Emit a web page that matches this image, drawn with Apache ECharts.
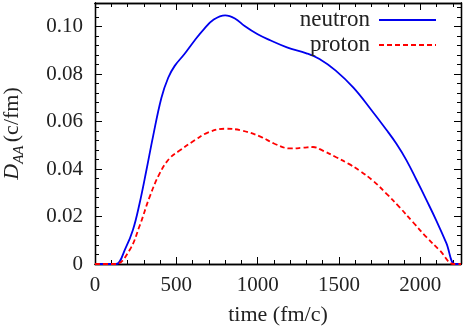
<!DOCTYPE html>
<html>
<head>
<meta charset="utf-8">
<script src="https://cdn.jsdelivr.net/npm/echarts@6/dist/echarts.min.js"></script>
<style>html,body{margin:0;padding:0;background:#fff}#c{width:463px;height:328px}</style>
</head>
<body>
<div id="c"></div>
<script>
const neutronT = [0,100,130,190,233,274,316,356,408,450,490,550,610,670,730,800,860,920,1000,1080,1180,1300,1380,1480,1590,1700,1790,1853,1915,1976,2038,2099,2160,2212,2250];
const neutronV = [0,0,0,0.007,0.0143,0.0255,0.0395,0.0535,0.070,0.0785,0.0835,0.0885,0.094,0.099,0.103,0.1048,0.1035,0.1003,0.0968,0.0942,0.0913,0.0888,0.0864,0.0815,0.0742,0.0648,0.0567,0.0507,0.0437,0.0355,0.0269,0.0182,0.0088,0,0];
const protonT = [0,100,130,213,274,336,397,459,520,610,690,800,900,1020,1100,1200,1280,1340,1400,1480,1560,1627,1709,1791,1873,1955,2038,2120,2205,2250];
const protonV = [0,0,0,0.0059,0.016,0.0283,0.0381,0.0446,0.0478,0.052,0.0553,0.057,0.0563,0.0536,0.0508,0.0487,0.049,0.0493,0.0478,0.0451,0.0422,0.0393,0.0351,0.0297,0.0239,0.0176,0.0113,0.0057,0,0];
const seriesNames = ['neutron','proton'];
const xTitle = 'time (fm/c)';

const FONT = 'Liberation Serif';
const chart = echarts.init(document.getElementById('c'), null, {renderer:'canvas'});
const zip = (a,b)=>a.map((t,i)=>[t,b[i]]);
const X = {min:0,max:2250}, Y = {min:0,max:0.11};
const line = {show:true,onZero:false,lineStyle:{color:'#000',width:1.3}};
function xa(pos, interval, len, labels, extra){
  return Object.assign({type:'value',position:pos,min:X.min,max:X.max,interval:interval,
    axisLine:line,splitLine:{show:false},
    axisTick:{show:true,inside:true,length:len,lineStyle:{color:'#000',width:1}},
    axisLabel:{show:labels,showMaxLabel:false,margin:11,color:'#222',fontFamily:FONT,fontSize:21,
      formatter:v=>String(v)}},extra||{});
}
function ya(pos, interval, len, labels, extra){
  return Object.assign({type:'value',position:pos,min:Y.min,max:Y.max,interval:interval,
    axisLine:line,splitLine:{show:false},
    axisTick:{show:true,inside:true,length:len,lineStyle:{color:'#000',width:1}},
    axisLabel:{show:labels,showMaxLabel:false,margin:12,color:'#222',fontFamily:FONT,fontSize:21,
      formatter:v=>v===0?'0':v.toFixed(2)}},extra||{});
}
chart.setOption({
  animation:false,
  grid:{left:95,right:2,top:3,bottom:64,containLabel:false,outerBoundsMode:'none'},
  legend:{orient:'vertical',right:21,top:3,align:'right',itemWidth:57,itemHeight:14,itemGap:1,
    itemStyle:{opacity:0},
    textStyle:{fontFamily:FONT,fontSize:23,lineHeight:24,color:'#222',padding:[0,4,0,0]},
    data:seriesNames},
  xAxis:[
    xa('bottom',500,7,true,{name:xTitle,nameLocation:'middle',nameGap:40,
      nameTextStyle:{fontFamily:FONT,fontSize:22,color:'#222'}}),
    xa('bottom',100,4,false),
    xa('top',500,7,false),
    xa('top',100,4,false)
  ],
  yAxis:[
    ya('left',0.02,7,true,{name:'{i|D}{s|AA} {n|(c/fm)}',nameLocation:'middle',nameGap:68,
      nameTextStyle:{rich:{
        i:{fontFamily:FONT,fontSize:22,fontStyle:'italic',color:'#222',lineHeight:30,verticalAlign:'middle'},
        s:{fontFamily:FONT,fontSize:15,fontStyle:'italic',color:'#222',lineHeight:15,verticalAlign:'bottom'},
        n:{fontFamily:FONT,fontSize:22,color:'#222',lineHeight:30,verticalAlign:'middle'}}}}),
    ya('left',0.004,4,false),
    ya('right',0.02,7,false),
    ya('right',0.004,4,false)
  ],
  series:[
    {name:seriesNames[0],type:'line',data:zip(neutronT,neutronV),smooth:0.4,symbol:'none',
      lineStyle:{color:'#0000ee',width:1.8},itemStyle:{color:'#0000ee'}},
    {name:seriesNames[1],type:'line',data:zip(protonT,protonV),smooth:0.4,symbol:'none',
      lineStyle:{color:'#ff0000',width:1.8,type:[5,3]},itemStyle:{color:'#ff0000'}}
  ]
});
</script>
</body>
</html>
